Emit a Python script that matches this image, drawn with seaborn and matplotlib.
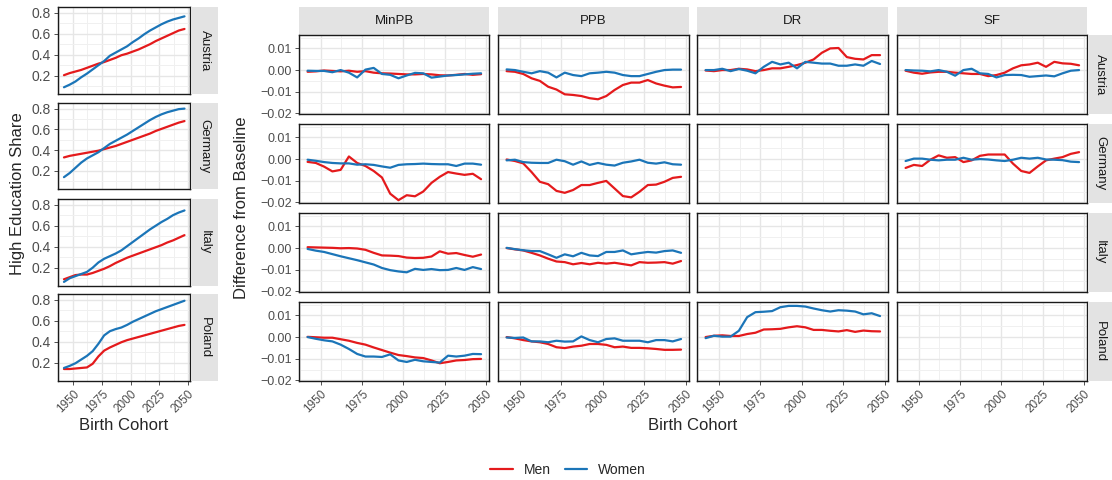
import numpy as np
import pandas as pd
import matplotlib
matplotlib.use("Agg")
import matplotlib.pyplot as plt
import seaborn as sns
from matplotlib.lines import Line2D

sns.set_theme(style="white")
plt.rcParams["font.family"] = ["Liberation Sans", "DejaVu Sans"]

# ---------------------------------------------------------------- data
cohorts = [1942, 1947, 1952, 1957, 1962, 1967, 1972, 1977, 1982, 1987, 1992,
           1997, 2002, 2007, 2012, 2017, 2022, 2027, 2032, 2037, 2042, 2047]
countries = ["Austria", "Germany", "Italy", "Poland"]
scenarios = ["MinPB", "PPB", "DR", "SF"]
sexes = ["Men", "Women"]

# High education share by cohort
share_austria_men = [0.205, 0.225, 0.24, 0.255, 0.275, 0.295, 0.315, 0.33, 0.35, 0.37, 0.395,
                     0.41, 0.43, 0.45, 0.475, 0.50, 0.53, 0.555, 0.58, 0.605, 0.63, 0.645]
share_austria_women = [0.09, 0.115, 0.145, 0.185, 0.22, 0.26, 0.30, 0.34, 0.39, 0.42, 0.45,
                       0.48, 0.52, 0.555, 0.595, 0.63, 0.66, 0.69, 0.715, 0.735, 0.75, 0.765]
share_germany_men = [0.33, 0.345, 0.355, 0.365, 0.375, 0.385, 0.395, 0.41, 0.425, 0.44, 0.46,
                     0.48, 0.50, 0.52, 0.54, 0.56, 0.585, 0.605, 0.625, 0.645, 0.665, 0.68]
share_germany_women = [0.14, 0.18, 0.23, 0.28, 0.32, 0.35, 0.38, 0.42, 0.46, 0.49, 0.52,
                       0.55, 0.585, 0.62, 0.655, 0.69, 0.72, 0.745, 0.765, 0.78, 0.795, 0.80]
share_italy_men = [0.09, 0.11, 0.13, 0.135, 0.135, 0.15, 0.17, 0.19, 0.215, 0.245, 0.27,
                   0.295, 0.315, 0.335, 0.355, 0.375, 0.395, 0.415, 0.44, 0.46, 0.485, 0.51]
share_italy_women = [0.065, 0.10, 0.12, 0.14, 0.16, 0.20, 0.25, 0.285, 0.31, 0.335, 0.365,
                     0.405, 0.445, 0.485, 0.525, 0.565, 0.60, 0.635, 0.665, 0.70, 0.725, 0.745]
share_poland_men = [0.14, 0.14, 0.145, 0.15, 0.155, 0.19, 0.26, 0.315, 0.345, 0.37, 0.395,
                    0.415, 0.43, 0.445, 0.46, 0.475, 0.49, 0.505, 0.52, 0.535, 0.55, 0.56]
share_poland_women = [0.15, 0.17, 0.195, 0.23, 0.265, 0.31, 0.38, 0.46, 0.50, 0.52, 0.535,
                      0.56, 0.59, 0.615, 0.64, 0.665, 0.69, 0.71, 0.73, 0.75, 0.77, 0.79]

# Difference from baseline, by scenario and country
minpb_austria_men = [-0.0008, -0.0006, -0.0002, -0.0004, -0.0006, -0.0003, -0.0008, -0.0005, -0.0012, -0.0015, -0.0016,
                     -0.0018, -0.002, -0.002, -0.0018, -0.002, -0.0024, -0.0025, -0.0022, -0.0018, -0.0022, -0.0019]
minpb_austria_women = [-0.0003, -0.0004, -0.0004, -0.001, 0.0, -0.0012, -0.0034, 0.0002, 0.001, -0.0018, -0.0022,
                       -0.0038, -0.0025, -0.0013, -0.0015, -0.0035, -0.003, -0.0025, -0.0023, -0.002, -0.0017, -0.0015]
minpb_germany_men = [-0.0013, -0.0018, -0.0035, -0.0057, -0.005, 0.0012, -0.0018, -0.0032, -0.0055, -0.0085, -0.016,
                     -0.019, -0.0167, -0.0172, -0.015, -0.011, -0.0082, -0.006, -0.0067, -0.0073, -0.0068, -0.0093]
minpb_germany_women = [-0.0003, -0.0008, -0.0014, -0.0018, -0.002, -0.002, -0.0026, -0.0024, -0.0027, -0.0034, -0.004,
                       -0.0027, -0.0024, -0.0023, -0.0021, -0.0023, -0.0024, -0.0024, -0.0032, -0.0021, -0.0021, -0.0026]
minpb_italy_men = [0.0004, 0.0003, 0.0002, 0.0001, -0.0001, 0.0, -0.0002, -0.0008, -0.0022, -0.0034, -0.0035,
                   -0.0037, -0.0044, -0.0046, -0.0045, -0.0039, -0.0015, -0.0026, -0.0023, -0.0032, -0.004, -0.003]
minpb_italy_women = [-0.0004, -0.0012, -0.0018, -0.0028, -0.0038, -0.0047, -0.0056, -0.0066, -0.0076, -0.0092, -0.0102,
                     -0.0108, -0.0112, -0.0096, -0.0101, -0.0097, -0.0102, -0.0101, -0.0092, -0.0101, -0.0088, -0.0097]
minpb_poland_men = [0.0001, -0.0001, -0.0003, -0.0003, -0.001, -0.0017, -0.0027, -0.0035, -0.0048, -0.006, -0.0072,
                    -0.0083, -0.0088, -0.0094, -0.0097, -0.0108, -0.0121, -0.0115, -0.0108, -0.0106, -0.0102, -0.0101]
minpb_poland_women = [0.0, -0.0008, -0.0015, -0.002, -0.0035, -0.0055, -0.0078, -0.009, -0.009, -0.0092, -0.008,
                      -0.0108, -0.0115, -0.0105, -0.0112, -0.0115, -0.0118, -0.0086, -0.009, -0.0086, -0.0078, -0.0079]

ppb_austria_men = [-0.0005, -0.0008, -0.0018, -0.0038, -0.005, -0.0077, -0.009, -0.0112, -0.0115, -0.012, -0.013,
                   -0.0135, -0.012, -0.0092, -0.0069, -0.0058, -0.0058, -0.0046, -0.0062, -0.0072, -0.008, -0.0078]
ppb_austria_women = [0.0003, 0.0, -0.0008, -0.0015, -0.0005, -0.0012, -0.0034, -0.0012, -0.0023, -0.0028, -0.0015,
                     -0.0012, -0.0008, -0.0012, -0.0023, -0.0028, -0.0028, -0.0018, -0.0008, 0.0, 0.0002, 0.0002]
ppb_germany_men = [-0.0002, -0.0009, -0.002, -0.006, -0.0105, -0.0116, -0.0147, -0.0156, -0.0143, -0.012, -0.012,
                   -0.011, -0.0101, -0.0136, -0.0171, -0.0177, -0.0151, -0.012, -0.0118, -0.0105, -0.0087, -0.0082]
ppb_germany_women = [-0.0006, -0.0003, -0.0014, -0.0017, -0.0018, -0.0018, -0.0003, -0.001, -0.0026, -0.0011, -0.0027,
                     -0.0018, -0.0026, -0.003, -0.0017, -0.0011, -0.0003, -0.0017, -0.0021, -0.0015, -0.0024, -0.0026]
ppb_italy_men = [0.0, -0.0006, -0.0011, -0.0022, -0.0034, -0.0049, -0.0062, -0.0065, -0.0075, -0.0069, -0.0075,
                 -0.0068, -0.0072, -0.0068, -0.0074, -0.008, -0.0065, -0.0068, -0.0067, -0.0065, -0.0072, -0.006]
ppb_italy_women = [0.0001, -0.0005, -0.001, -0.0014, -0.0014, -0.0029, -0.0045, -0.0029, -0.0038, -0.0022, -0.0034,
                   -0.0037, -0.0018, -0.0018, -0.0011, -0.0029, -0.0023, -0.0018, -0.0021, -0.0014, -0.0011, -0.0022]
ppb_poland_men = [0.0, -0.0006, -0.0014, -0.002, -0.0024, -0.0032, -0.0047, -0.0051, -0.0044, -0.004, -0.0032,
                  -0.0032, -0.0036, -0.0047, -0.0044, -0.005, -0.005, -0.0052, -0.0055, -0.0059, -0.0059, -0.0058]
ppb_poland_women = [-0.0002, -0.0004, -0.0002, -0.002, -0.002, -0.0024, -0.0017, -0.0021, -0.002, 0.0003, -0.0014,
                    -0.0024, -0.0009, -0.0006, -0.0017, -0.0017, -0.0017, -0.0024, -0.0014, -0.0014, -0.002, -0.0009]

dr_austria_men = [-0.0002, -0.0005, 0.0, 0.0, 0.0006, 0.0003, -0.0005, 0.0, 0.0008, 0.0008, 0.0015,
                  0.0023, 0.0034, 0.0049, 0.008, 0.010, 0.0102, 0.006, 0.0052, 0.0049, 0.0069, 0.0069]
dr_austria_women = [0.0, 0.0, 0.0006, -0.0005, 0.0005, -0.0003, -0.0015, 0.0015, 0.0038, 0.0026, 0.0034,
                    0.0008, 0.0038, 0.0034, 0.003, 0.003, 0.002, 0.002, 0.0026, 0.002, 0.0042, 0.0028]
dr_poland_men = [0.0, 0.0006, 0.0008, 0.0005, 0.0005, 0.0014, 0.002, 0.0035, 0.0036, 0.0038, 0.0045,
                 0.005, 0.0045, 0.0033, 0.0033, 0.0029, 0.0026, 0.0032, 0.0024, 0.003, 0.0027, 0.0026]
dr_poland_women = [-0.0005, 0.0006, 0.0002, 0.0002, 0.0029, 0.0092, 0.0115, 0.0117, 0.012, 0.0138, 0.0144,
                   0.0144, 0.0141, 0.0132, 0.0124, 0.0118, 0.0124, 0.0122, 0.0118, 0.0105, 0.011, 0.0097]

sf_austria_men = [-0.0003, -0.0012, -0.0017, -0.0011, -0.0008, -0.0008, -0.0012, -0.0015, -0.0018, -0.0018, -0.0028,
                  -0.0023, -0.0012, 0.0008, 0.0022, 0.0026, 0.0034, 0.0015, 0.0038, 0.0031, 0.0029, 0.0022]
sf_austria_women = [0.0, -0.0002, -0.0003, -0.0006, 0.0, -0.0008, -0.0026, 0.0, 0.0006, -0.0015, -0.0018,
                    -0.0034, -0.0023, -0.0022, -0.0023, -0.0031, -0.0028, -0.0025, -0.0029, -0.0015, -0.0003, 0.0]
sf_germany_men = [-0.0041, -0.0027, -0.0032, -0.0003, 0.0017, 0.0006, 0.0009, -0.0014, -0.0006, 0.0015, 0.0021,
                  0.0021, 0.0021, -0.0021, -0.0055, -0.0064, -0.0034, -0.0006, 0.0002, 0.0009, 0.0024, 0.0032]
sf_germany_women = [-0.0009, 0.0002, 0.0002, -0.0003, -0.0006, -0.0003, -0.0003, 0.0006, -0.0003, 0.0, -0.0002,
                    -0.0006, -0.0009, -0.0003, 0.0006, 0.0002, 0.0006, -0.0002, -0.0003, -0.0005, -0.0012, -0.0014]

share_series = {
    ("Austria", "Men"): share_austria_men, ("Austria", "Women"): share_austria_women,
    ("Germany", "Men"): share_germany_men, ("Germany", "Women"): share_germany_women,
    ("Italy", "Men"): share_italy_men, ("Italy", "Women"): share_italy_women,
    ("Poland", "Men"): share_poland_men, ("Poland", "Women"): share_poland_women,
}
diff_series = {
    ("MinPB", "Austria", "Men"): minpb_austria_men, ("MinPB", "Austria", "Women"): minpb_austria_women,
    ("MinPB", "Germany", "Men"): minpb_germany_men, ("MinPB", "Germany", "Women"): minpb_germany_women,
    ("MinPB", "Italy", "Men"): minpb_italy_men, ("MinPB", "Italy", "Women"): minpb_italy_women,
    ("MinPB", "Poland", "Men"): minpb_poland_men, ("MinPB", "Poland", "Women"): minpb_poland_women,
    ("PPB", "Austria", "Men"): ppb_austria_men, ("PPB", "Austria", "Women"): ppb_austria_women,
    ("PPB", "Germany", "Men"): ppb_germany_men, ("PPB", "Germany", "Women"): ppb_germany_women,
    ("PPB", "Italy", "Men"): ppb_italy_men, ("PPB", "Italy", "Women"): ppb_italy_women,
    ("PPB", "Poland", "Men"): ppb_poland_men, ("PPB", "Poland", "Women"): ppb_poland_women,
    ("DR", "Austria", "Men"): dr_austria_men, ("DR", "Austria", "Women"): dr_austria_women,
    ("DR", "Poland", "Men"): dr_poland_men, ("DR", "Poland", "Women"): dr_poland_women,
    ("SF", "Austria", "Men"): sf_austria_men, ("SF", "Austria", "Women"): sf_austria_women,
    ("SF", "Germany", "Men"): sf_germany_men, ("SF", "Germany", "Women"): sf_germany_women,
}

share_df = pd.concat(
    [pd.DataFrame({"country": c, "sex": s, "cohort": cohorts, "value": v})
     for (c, s), v in share_series.items()], ignore_index=True)
diff_df = pd.concat(
    [pd.DataFrame({"scenario": sc, "country": c, "sex": s, "cohort": cohorts, "value": v})
     for (sc, c, s), v in diff_series.items()], ignore_index=True)

# ---------------------------------------------------------------- style
palette = {"Men": "#E41A1C", "Women": "#1B75B8"}
W, H = 1112, 480
fig = plt.figure(figsize=(W / 100, H / 100), dpi=100)
fig.patch.set_facecolor("white")

TICK_COLOR = "#4D4D4D"
STRIP_FILL = "#E3E3E3"
XLIM = (1936.8, 2051.8)
x_major = [1950, 1975, 2000, 2025, 2050]
x_minor = [1937.5, 1962.5, 1987.5, 2012.5, 2037.5]


def px_axes(x0, y0, x1, y1):
    return fig.add_axes([x0 / W, 1 - y1 / H, (x1 - x0) / W, (y1 - y0) / H])


def style_panel(ax, ylim, y_major, y_minor, y_fmt, show_x, show_y):
    ax.set_facecolor("white")
    ax.set_xlim(*XLIM)
    ax.set_ylim(*ylim)
    ax.set_xticks(x_major)
    ax.set_xticks(x_minor, minor=True)
    ax.set_yticks(y_major)
    ax.set_yticks(y_minor, minor=True)
    ax.grid(which="major", color="#E6E6E6", lw=1.0)
    ax.grid(which="minor", color="#F0F0F0", lw=0.7)
    ax.set_axisbelow(True)
    for sp in ax.spines.values():
        sp.set_visible(True)
        sp.set_color("#1A1A1A")
        sp.set_linewidth(1.0)
    ax.tick_params(which="minor", length=0)
    ax.tick_params(which="major", length=3, width=0.6, color="#333333",
                   labelsize=9, labelcolor=TICK_COLOR, pad=2)
    ax.tick_params(axis="x", bottom=show_x, labelbottom=show_x)
    ax.tick_params(axis="y", left=show_y, labelleft=show_y)
    if show_x:
        ax.set_xticklabels([str(v) for v in x_major], rotation=45, ha="right",
                           va="top", rotation_mode="anchor", fontsize=8.5)
    if show_y:
        ax.set_yticklabels([y_fmt(v) for v in y_major])
    ax.set_xlabel("")
    ax.set_ylabel("")


def strip(x0, y0, x1, y1, label, vertical):
    sa = px_axes(x0, y0, x1, y1)
    sa.set_facecolor(STRIP_FILL)
    for sp in sa.spines.values():
        sp.set_visible(False)
    sa.set_xticks([])
    sa.set_yticks([])
    sa.text(0.5, 0.5, label, transform=sa.transAxes, ha="center", va="center",
            rotation=-90 if vertical else 0, fontsize=9.5, color="#1A1A1A")


def draw_lines(ax, data):
    if len(data):
        sns.lineplot(data=data, x="cohort", y="value", hue="sex", hue_order=sexes,
                     palette=palette, ax=ax, legend=False, lw=1.6, estimator=None)


def fmt_share(v):
    return f"{v:.1f}"


def fmt_diff(v):
    return f"{v:.2f}".replace("-", "\u2212")


# ---------------------------------------------------------------- left block: shares
left_rows = [(7, 94), (103, 189), (199, 286), (294, 381)]
for i, country in enumerate(countries):
    y0, y1 = left_rows[i]
    ax = px_axes(58, y0, 190, y1)
    draw_lines(ax, share_df[share_df["country"] == country])
    style_panel(ax, (0.026, 0.854), [0.2, 0.4, 0.6, 0.8], [0.1, 0.3, 0.5, 0.7],
                fmt_share, show_x=(i == 3), show_y=True)
    ax.tick_params(axis="y", labelsize=10)
    strip(191, y0, 218, y1, country, vertical=True)

fig.text(124 / W, 1 - 426 / H, "Birth Cohort", ha="center", va="center", fontsize=12)
fig.text(18 / W, 1 - 194 / H, "High Education Share", ha="center", va="center",
         rotation=90, fontsize=12)

# ---------------------------------------------------------------- right block: differences
right_cols = [(299, 489), (498, 689), (697, 888), (897, 1087)]
right_rows = [(35, 114), (124, 203), (213, 292), (302, 381)]
for j, scen in enumerate(scenarios):
    cx0, cx1 = right_cols[j]
    strip(cx0, 7, cx1, 35, scen, vertical=False)
    for i, country in enumerate(countries):
        y0, y1 = right_rows[i]
        ax = px_axes(cx0, y0, cx1, y1)
        sub = diff_df[(diff_df["scenario"] == scen) & (diff_df["country"] == country)]
        draw_lines(ax, sub)
        style_panel(ax, (-0.0203, 0.0162), [-0.02, -0.01, 0.0, 0.01],
                    [-0.015, -0.005, 0.005, 0.015], fmt_diff,
                    show_x=(i == 3), show_y=(j == 0))
        if j == 3:
            strip(1088, y0, 1112, y1, country, vertical=True)

fig.text(693 / W, 1 - 426 / H, "Birth Cohort", ha="center", va="center", fontsize=12)
fig.text(242 / W, 1 - 208 / H, "Difference from Baseline", ha="center", va="center",
         rotation=90, fontsize=12)

# ---------------------------------------------------------------- legend
handles = [Line2D([], [], color=palette[s], lw=1.6) for s in sexes]
fig.legend(handles, sexes, loc="center", bbox_to_anchor=(568 / W, 1 - 470 / H),
           ncol=2, frameon=False, fontsize=10, handlelength=1.6, columnspacing=1.0,
           handletextpad=0.8)

fig.savefig("out.png", dpi=100)
